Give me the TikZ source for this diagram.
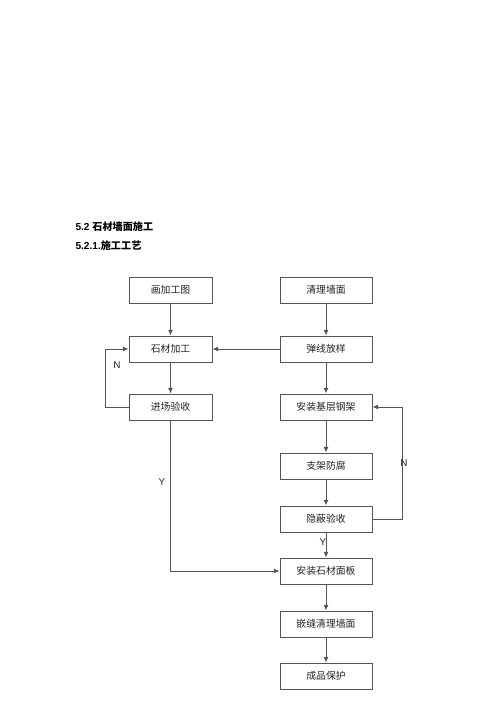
\documentclass[tikz,border=0pt]{standalone}
\usepackage{fontspec}
\setmainfont{Liberation Sans}
\newfontfamily\cjk{Noto Sans CJK SC}
\usetikzlibrary{arrows.meta}
\definecolor{linegray}{RGB}{85,85,85}
\definecolor{textgray}{RGB}{35,35,35}
\tikzstyle{every path}=[line width=0.75pt]
\tikzstyle{stepbox}=[draw=linegray, rectangle, minimum height=19.5pt, inner sep=0pt,
    text=textgray, font=\cjk\fontsize{7.4pt}{8pt}\selectfont]
\tikzstyle{leftbox}=[stepbox, minimum width=62.25pt]
\tikzstyle{rightbox}=[stepbox, minimum width=69pt]
\tikzstyle{flow}=[draw=linegray, -{Latex[length=4.2pt,width=3.8pt]}]
\tikzstyle{yesno}=[text=textgray, font=\fontsize{7.4pt}{8pt}\selectfont, inner sep=0pt]
\tikzstyle{heading}=[anchor=west, text=black, inner sep=0pt,
    font=\bfseries\fontsize{7.6pt}{9pt}\selectfont]

\begin{document}
\begin{tikzpicture}[x=0.75pt, y=-0.75pt]
            \path[use as bounding box] (0,0) rectangle (500,707);

            % headings
            \node[heading] (title) at (75,227) {5.2 {\cjk 石材墙面施工}};
            \node[heading] (subtitle) at (75,246) {5.2.1.{\cjk 施工工艺}};

            % left column
            \node[leftbox] (hjgt) at (170.5,290) {画加工图};
            \node[leftbox] (scjg) at (170.5,349) {石材加工};
            \node[leftbox] (jcys) at (170.5,407) {进场验收};

            % right column
            \node[rightbox] (qlqm) at (326,290) {清理墙面};
            \node[rightbox] (txfy) at (326,349) {弹线放样};
            \node[rightbox] (azjc) at (326,407) {安装基层钢架};
            \node[rightbox] (zjff) at (326,466) {支架防腐};
            \node[rightbox] (ybys) at (326,519) {隐蔽验收};
            \node[rightbox] (azsc) at (326,571) {安装石材面板};
            \node[rightbox] (qfql) at (326,624) {嵌缝清理墙面};
            \node[rightbox] (cpbh) at (326,676) {成品保护};

            \draw[flow] (hjgt) -- (scjg);
            \draw[flow] (scjg) -- (jcys);
            \draw[flow] (qlqm) -- (txfy);
            \draw[flow] (txfy) -- (scjg);
            \draw[flow] (txfy) -- (azjc);
            \draw[flow] (azjc) -- (zjff);
            \draw[flow] (zjff) -- (ybys);
            \draw[flow] (ybys) -- (azsc);
            \draw[flow] (azsc) -- (qfql);
            \draw[flow] (qfql) -- (cpbh);

            % loops back
            \draw[flow] (jcys.west) -- ++(-23,0) |- (scjg.west);
            \draw[flow] (jcys.south) |- (azsc.west);
            \draw[flow] (ybys.east) -- ++(30,0) |- (azjc.east);

            \node[yesno] (no1) at (117,365) {N};
            \node[yesno] (yes1) at (162,482) {Y};
            \node[yesno] (no2) at (404,463) {N};
            \node[yesno] (yes2) at (323,542) {Y};
        \end{tikzpicture}
\end{document}
